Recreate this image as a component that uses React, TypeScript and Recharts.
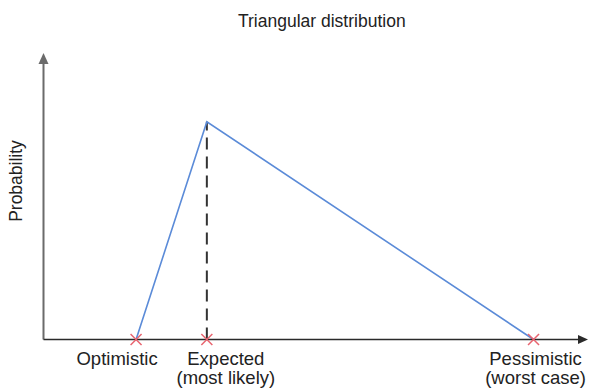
import React from 'react';
import { ComposedChart, Line, Scatter, XAxis, YAxis, ReferenceLine } from 'recharts';

// ---- data ----
const pointNames = ['Optimistic', 'Expected', 'Pessimistic'];
const pointSubtitles = ['', '(most likely)', '(worst case)'];
const pointX = [17, 30, 90];
const pointY = [0, 0.76, 0];
const xDomain: [number, number] = [0, 100];
const yDomain: [number, number] = [0, 1];
const titleText = 'Triangular distribution';
const yLabelText = 'Probability';

const lineData = pointX.map((x, i) => ({ x, y: pointY[i] }));
const markerData = pointX.map((x) => ({ x, y: 0 }));

// ---- style ----
const FONT = '"Liberation Sans", Arial, Helvetica, sans-serif';
const TEXT = '#222';
const labelShift = [-19, 19, 2];

const makeArrow = (color: string, width: number, head: number, headW: number) => (p: any) => {
  const { x1, y1, x2, y2 } = p;
  const dx = x2 - x1;
  const dy = y2 - y1;
  const len = Math.hypot(dx, dy) || 1;
  const ux = dx / len;
  const uy = dy / len;
  const bx = x2 - ux * head;
  const by = y2 - uy * head;
  const px = -uy;
  const py = ux;
  return (
    <g>
      <line x1={x1} y1={y1} x2={bx + ux} y2={by + uy} stroke={color} strokeWidth={width} />
      <polygon
        points={`${x2},${y2} ${bx + (px * headW) / 2},${by + (py * headW) / 2} ${bx - (px * headW) / 2},${by - (py * headW) / 2}`}
        fill={color}
      />
    </g>
  );
};

const DashedShape = (p: any) => {
  const { x1, y1, x2, y2 } = p;
  return <line x1={x1} y1={y1} x2={x2} y2={y2} stroke="#333" strokeWidth={2} strokeDasharray="12 7" />;
};

const Cross = (p: any) => {
  const { cx, cy } = p;
  const s = 5.5;
  return (
    <g stroke="#e8646f" strokeWidth={1.5}>
      <line x1={cx - s} y1={cy - s} x2={cx + s} y2={cy + s} />
      <line x1={cx - s} y1={cy + s} x2={cx + s} y2={cy - s} />
    </g>
  );
};

const Tick = (p: any) => {
  const { x, y, payload } = p;
  const i = pointX.indexOf(payload.value);
  if (i < 0) return null;
  const cx = x + labelShift[i];
  return (
    <g>
      <text x={cx} y={y + 25} textAnchor="middle" fontSize={18.5} fill={TEXT} fontFamily={FONT}>
        {pointNames[i]}
      </text>
      {pointSubtitles[i] ? (
        <text x={cx} y={y + 44} textAnchor="middle" fontSize={18.5} fill={TEXT} fontFamily={FONT}>
          {pointSubtitles[i]}
        </text>
      ) : null}
    </g>
  );
};

export default function App() {
  return (
    <div style={{ position: 'absolute', left: 0, top: 0, width: 591, height: 391, background: '#fff' }}>
      <ComposedChart
        width={591}
        height={391}
        margin={{ top: 53, right: 3, bottom: 0, left: 0 }}
        style={{ fontFamily: FONT }}
      >
        <XAxis
          type="number"
          dataKey="x"
          domain={xDomain}
          ticks={pointX}
          tick={<Tick />}
          tickLine={false}
          axisLine={false}
          tickSize={0}
          tickMargin={0}
          height={51.5}
        />
        <YAxis type="number" dataKey="y" domain={yDomain} tick={false} tickLine={false} axisLine={false} width={43.5} />
        <ReferenceLine
          segment={[{ x: 0, y: 0 }, { x: 0, y: 1 }]}
          shape={makeArrow('#6b6b6b', 2, 11, 10)}
          ifOverflow="visible"
        />
        <ReferenceLine
          segment={[{ x: pointX[1], y: 0 }, { x: pointX[1], y: pointY[1] }]}
          shape={DashedShape}
          ifOverflow="visible"
        />
        <Line
          data={lineData}
          dataKey="y"
          type="linear"
          stroke="#5b8bd8"
          strokeWidth={1.6}
          dot={false}
          activeDot={false}
          isAnimationActive={false}
        />
        <ReferenceLine
          segment={[{ x: 0, y: 0 }, { x: 100, y: 0 }]}
          shape={makeArrow('#2a2a2a', 1.6, 10, 9)}
          ifOverflow="visible"
        />
        <Scatter data={markerData} dataKey="y" shape={<Cross />} isAnimationActive={false} />
        <text x={238} y={26.5} textAnchor="start" fontSize={17.5} fill={TEXT} fontFamily={FONT}>
          {titleText}
        </text>
        <text
          x={22}
          y={181}
          transform="rotate(-90 22 181)"
          textAnchor="middle"
          fontSize={17.5}
          fill={TEXT}
          fontFamily={FONT}
        >
          {yLabelText}
        </text>
      </ComposedChart>
    </div>
  );
}
